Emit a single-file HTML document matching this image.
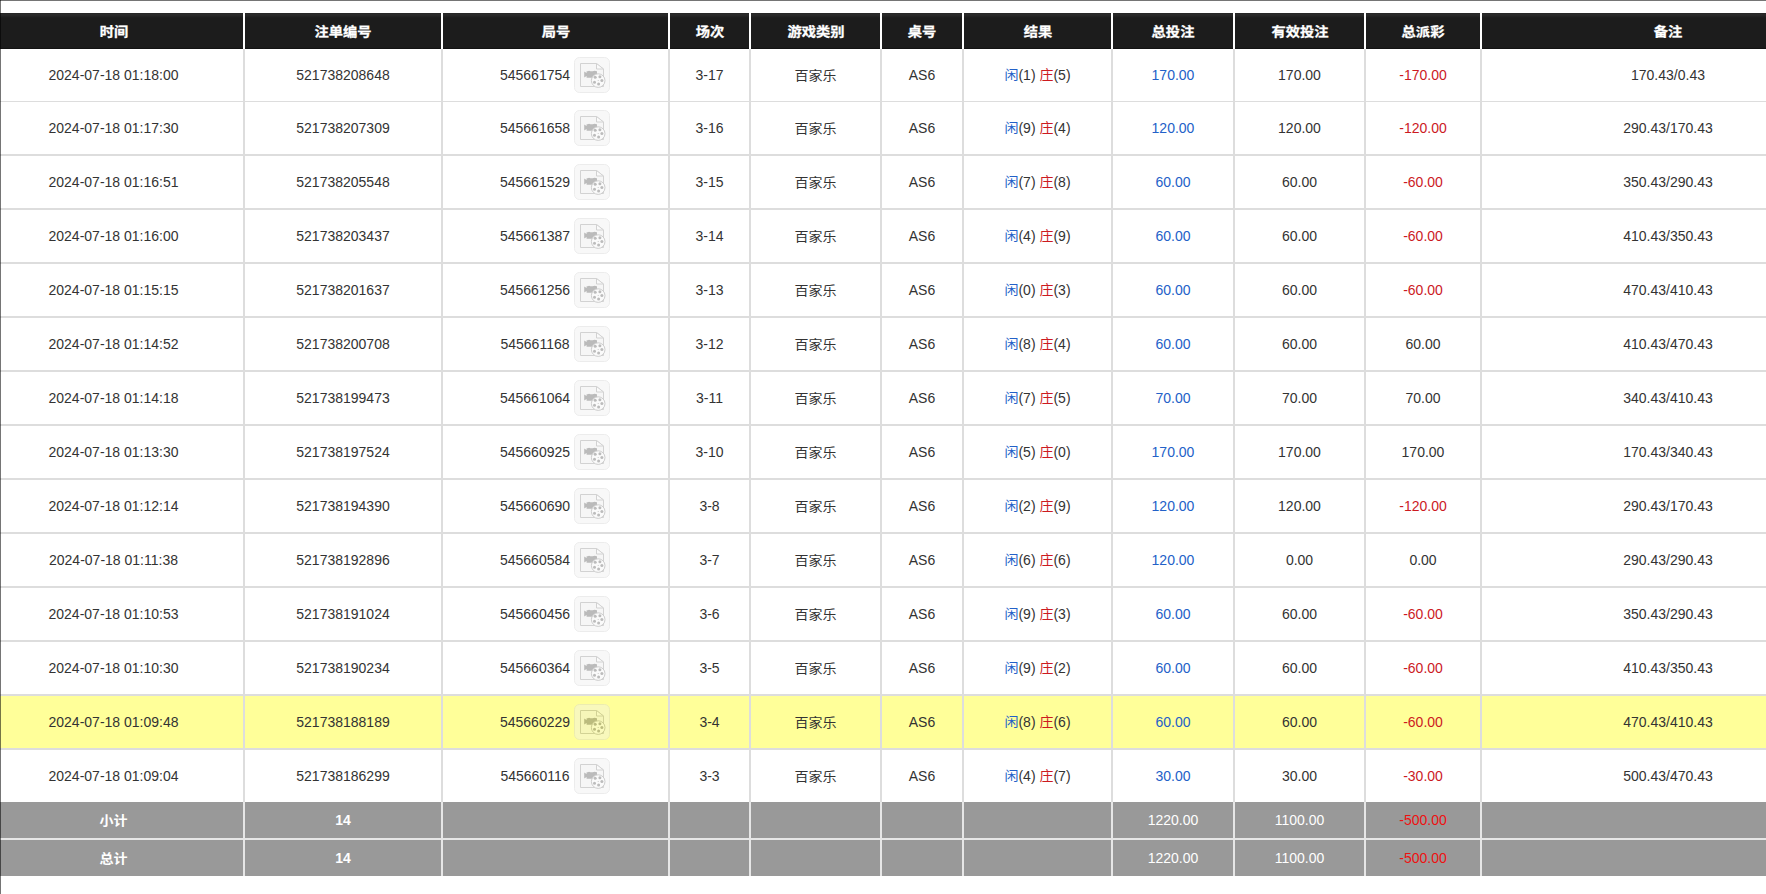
<!DOCTYPE html>
<html lang="zh-CN">
<head>
<meta charset="utf-8">
<title>注单记录</title>
<style>
html,body{margin:0;padding:0;background:#fff;}
body{width:1766px;height:894px;overflow:hidden;position:relative;font-family:"Liberation Sans","Noto Sans CJK SC",sans-serif;font-size:14px;color:#333;}
.wrap{position:absolute;left:-16px;top:13px;width:1870px;}
table{border-collapse:separate;border-spacing:0;table-layout:fixed;width:1870px;}
th,td{padding:0;text-align:center;vertical-align:middle;white-space:nowrap;overflow:hidden;box-sizing:border-box;}
thead th{height:36px;background:#1c1c1c linear-gradient(#232323 0,#2a2a2a 1px,#292929 2px,#1c1c1c 5px,#1c1c1c 34px,#1a1a1a 35px,#0c0c0c 36px);color:#fff;font-weight:bold;font-size:14px;border-right:2px solid #fff;font-family:"Liberation Sans","Noto Sans CJK SC",sans-serif;}
tbody td{height:54px;border-right:2px solid #ddd;border-bottom:2px solid #ddd;background:#fff;}
tbody tr.first td{height:53px;border-bottom-width:1px;}
tbody tr.last td{height:52px;border-bottom:0;}
tbody tr.hl td{background:#ffff99;}
tfoot td{height:38px;background:#999;color:#fff;border-right:2px solid #e6e6e6;border-bottom:2px solid #e6e6e6;}
tfoot tr.tot td{height:36px;border-bottom:0;}
th:last-child,td:last-child{border-right:0;}
.hc{display:inline-block;transform:scale(1.02,.9);-webkit-text-stroke:.3px #fff;}
.cj{display:inline-block;transform:translateY(-1px) scaleY(.92);}
tbody td.res{padding-bottom:2px;}
.b{color:#2361c8;}
.r{color:#cc1a1f;}
tfoot .r{color:#ee1111;}
tfoot .bd{font-weight:bold;}
.ic{display:inline-block;vertical-align:middle;margin-left:4px;opacity:.4;}
tbody td.c3{padding-right:1px;}
.no{display:inline-block;vertical-align:middle;}
.edge-t{position:absolute;left:0;top:0;width:1766px;height:1px;background:rgba(0,0,0,.54);z-index:5;}
.edge-l{position:absolute;left:0;top:0;width:1px;height:894px;background:rgba(0,0,0,.54);z-index:5;}
</style>
</head>
<body>
<div class="wrap">
<table>
<colgroup>
<col style="width:261px">
<col style="width:198px">
<col style="width:227px">
<col style="width:81px">
<col style="width:131px">
<col style="width:82px">
<col style="width:149px">
<col style="width:122px">
<col style="width:131px">
<col style="width:116px">
<col style="width:372px">
</colgroup>
<thead><tr>
<th><span class="hc">时间</span></th>
<th><span class="hc">注单编号</span></th>
<th><span class="hc">局号</span></th>
<th><span class="hc">场次</span></th>
<th><span class="hc">游戏类别</span></th>
<th><span class="hc">桌号</span></th>
<th><span class="hc">结果</span></th>
<th><span class="hc">总投注</span></th>
<th><span class="hc">有效投注</span></th>
<th><span class="hc">总派彩</span></th>
<th><span class="hc">备注</span></th>
</tr></thead>
<tbody>
<tr class="first"><td>2024-07-18 01:18:00</td><td>521738208648</td><td class="c3"><span class="no">545661754</span><svg class="ic" width="36" height="36" viewBox="0 0 36 36" aria-hidden="true"><rect x=".5" y=".5" width="35" height="35" rx="5" ry="5" fill="#f0f0f0" stroke="#d2d2d2"/><path d="M6.5 6.5H22.5L29.5 12V29.5H6.5Z" fill="#ebebeb" stroke="#919191"/><path d="M22.5 6.5V12H29.5Z" fill="#f5f5f5" stroke="#919191"/><path d="M10.2 14.6L12.6 16V14.2H13.6Q15 13.2 16.5 14.2H18.6Q20.7 13.2 22.8 14.2H23V20.7H12.6V19L10.2 20.4Z" fill="#585858"/><circle cx="24.2" cy="23.6" r="6.8" fill="#f5f5f5" stroke="#828282"/><circle cx="21.2" cy="20.3" r="1.5" fill="#5a5a5a"/><circle cx="25.9" cy="19.8" r="1.5" fill="#5a5a5a"/><circle cx="27.9" cy="23.4" r="1.5" fill="#5a5a5a"/><circle cx="24.6" cy="27.1" r="1.5" fill="#5a5a5a"/><circle cx="20.5" cy="25.3" r="1.5" fill="#5a5a5a"/><circle cx="24.2" cy="23.5" r=".6" fill="#757575"/></svg></td><td>3-17</td><td><span class="cj">百家乐</span></td><td>AS6</td><td class="res"><span class="b cj">闲</span>(1) <span class="r cj">庄</span>(5)</td><td class="b">170.00</td><td>170.00</td><td class="r">-170.00</td><td>170.43/0.43</td></tr>
<tr><td>2024-07-18 01:17:30</td><td>521738207309</td><td class="c3"><span class="no">545661658</span><svg class="ic" width="36" height="36" viewBox="0 0 36 36" aria-hidden="true"><rect x=".5" y=".5" width="35" height="35" rx="5" ry="5" fill="#f0f0f0" stroke="#d2d2d2"/><path d="M6.5 6.5H22.5L29.5 12V29.5H6.5Z" fill="#ebebeb" stroke="#919191"/><path d="M22.5 6.5V12H29.5Z" fill="#f5f5f5" stroke="#919191"/><path d="M10.2 14.6L12.6 16V14.2H13.6Q15 13.2 16.5 14.2H18.6Q20.7 13.2 22.8 14.2H23V20.7H12.6V19L10.2 20.4Z" fill="#585858"/><circle cx="24.2" cy="23.6" r="6.8" fill="#f5f5f5" stroke="#828282"/><circle cx="21.2" cy="20.3" r="1.5" fill="#5a5a5a"/><circle cx="25.9" cy="19.8" r="1.5" fill="#5a5a5a"/><circle cx="27.9" cy="23.4" r="1.5" fill="#5a5a5a"/><circle cx="24.6" cy="27.1" r="1.5" fill="#5a5a5a"/><circle cx="20.5" cy="25.3" r="1.5" fill="#5a5a5a"/><circle cx="24.2" cy="23.5" r=".6" fill="#757575"/></svg></td><td>3-16</td><td><span class="cj">百家乐</span></td><td>AS6</td><td class="res"><span class="b cj">闲</span>(9) <span class="r cj">庄</span>(4)</td><td class="b">120.00</td><td>120.00</td><td class="r">-120.00</td><td>290.43/170.43</td></tr>
<tr><td>2024-07-18 01:16:51</td><td>521738205548</td><td class="c3"><span class="no">545661529</span><svg class="ic" width="36" height="36" viewBox="0 0 36 36" aria-hidden="true"><rect x=".5" y=".5" width="35" height="35" rx="5" ry="5" fill="#f0f0f0" stroke="#d2d2d2"/><path d="M6.5 6.5H22.5L29.5 12V29.5H6.5Z" fill="#ebebeb" stroke="#919191"/><path d="M22.5 6.5V12H29.5Z" fill="#f5f5f5" stroke="#919191"/><path d="M10.2 14.6L12.6 16V14.2H13.6Q15 13.2 16.5 14.2H18.6Q20.7 13.2 22.8 14.2H23V20.7H12.6V19L10.2 20.4Z" fill="#585858"/><circle cx="24.2" cy="23.6" r="6.8" fill="#f5f5f5" stroke="#828282"/><circle cx="21.2" cy="20.3" r="1.5" fill="#5a5a5a"/><circle cx="25.9" cy="19.8" r="1.5" fill="#5a5a5a"/><circle cx="27.9" cy="23.4" r="1.5" fill="#5a5a5a"/><circle cx="24.6" cy="27.1" r="1.5" fill="#5a5a5a"/><circle cx="20.5" cy="25.3" r="1.5" fill="#5a5a5a"/><circle cx="24.2" cy="23.5" r=".6" fill="#757575"/></svg></td><td>3-15</td><td><span class="cj">百家乐</span></td><td>AS6</td><td class="res"><span class="b cj">闲</span>(7) <span class="r cj">庄</span>(8)</td><td class="b">60.00</td><td>60.00</td><td class="r">-60.00</td><td>350.43/290.43</td></tr>
<tr><td>2024-07-18 01:16:00</td><td>521738203437</td><td class="c3"><span class="no">545661387</span><svg class="ic" width="36" height="36" viewBox="0 0 36 36" aria-hidden="true"><rect x=".5" y=".5" width="35" height="35" rx="5" ry="5" fill="#f0f0f0" stroke="#d2d2d2"/><path d="M6.5 6.5H22.5L29.5 12V29.5H6.5Z" fill="#ebebeb" stroke="#919191"/><path d="M22.5 6.5V12H29.5Z" fill="#f5f5f5" stroke="#919191"/><path d="M10.2 14.6L12.6 16V14.2H13.6Q15 13.2 16.5 14.2H18.6Q20.7 13.2 22.8 14.2H23V20.7H12.6V19L10.2 20.4Z" fill="#585858"/><circle cx="24.2" cy="23.6" r="6.8" fill="#f5f5f5" stroke="#828282"/><circle cx="21.2" cy="20.3" r="1.5" fill="#5a5a5a"/><circle cx="25.9" cy="19.8" r="1.5" fill="#5a5a5a"/><circle cx="27.9" cy="23.4" r="1.5" fill="#5a5a5a"/><circle cx="24.6" cy="27.1" r="1.5" fill="#5a5a5a"/><circle cx="20.5" cy="25.3" r="1.5" fill="#5a5a5a"/><circle cx="24.2" cy="23.5" r=".6" fill="#757575"/></svg></td><td>3-14</td><td><span class="cj">百家乐</span></td><td>AS6</td><td class="res"><span class="b cj">闲</span>(4) <span class="r cj">庄</span>(9)</td><td class="b">60.00</td><td>60.00</td><td class="r">-60.00</td><td>410.43/350.43</td></tr>
<tr><td>2024-07-18 01:15:15</td><td>521738201637</td><td class="c3"><span class="no">545661256</span><svg class="ic" width="36" height="36" viewBox="0 0 36 36" aria-hidden="true"><rect x=".5" y=".5" width="35" height="35" rx="5" ry="5" fill="#f0f0f0" stroke="#d2d2d2"/><path d="M6.5 6.5H22.5L29.5 12V29.5H6.5Z" fill="#ebebeb" stroke="#919191"/><path d="M22.5 6.5V12H29.5Z" fill="#f5f5f5" stroke="#919191"/><path d="M10.2 14.6L12.6 16V14.2H13.6Q15 13.2 16.5 14.2H18.6Q20.7 13.2 22.8 14.2H23V20.7H12.6V19L10.2 20.4Z" fill="#585858"/><circle cx="24.2" cy="23.6" r="6.8" fill="#f5f5f5" stroke="#828282"/><circle cx="21.2" cy="20.3" r="1.5" fill="#5a5a5a"/><circle cx="25.9" cy="19.8" r="1.5" fill="#5a5a5a"/><circle cx="27.9" cy="23.4" r="1.5" fill="#5a5a5a"/><circle cx="24.6" cy="27.1" r="1.5" fill="#5a5a5a"/><circle cx="20.5" cy="25.3" r="1.5" fill="#5a5a5a"/><circle cx="24.2" cy="23.5" r=".6" fill="#757575"/></svg></td><td>3-13</td><td><span class="cj">百家乐</span></td><td>AS6</td><td class="res"><span class="b cj">闲</span>(0) <span class="r cj">庄</span>(3)</td><td class="b">60.00</td><td>60.00</td><td class="r">-60.00</td><td>470.43/410.43</td></tr>
<tr><td>2024-07-18 01:14:52</td><td>521738200708</td><td class="c3"><span class="no">545661168</span><svg class="ic" width="36" height="36" viewBox="0 0 36 36" aria-hidden="true"><rect x=".5" y=".5" width="35" height="35" rx="5" ry="5" fill="#f0f0f0" stroke="#d2d2d2"/><path d="M6.5 6.5H22.5L29.5 12V29.5H6.5Z" fill="#ebebeb" stroke="#919191"/><path d="M22.5 6.5V12H29.5Z" fill="#f5f5f5" stroke="#919191"/><path d="M10.2 14.6L12.6 16V14.2H13.6Q15 13.2 16.5 14.2H18.6Q20.7 13.2 22.8 14.2H23V20.7H12.6V19L10.2 20.4Z" fill="#585858"/><circle cx="24.2" cy="23.6" r="6.8" fill="#f5f5f5" stroke="#828282"/><circle cx="21.2" cy="20.3" r="1.5" fill="#5a5a5a"/><circle cx="25.9" cy="19.8" r="1.5" fill="#5a5a5a"/><circle cx="27.9" cy="23.4" r="1.5" fill="#5a5a5a"/><circle cx="24.6" cy="27.1" r="1.5" fill="#5a5a5a"/><circle cx="20.5" cy="25.3" r="1.5" fill="#5a5a5a"/><circle cx="24.2" cy="23.5" r=".6" fill="#757575"/></svg></td><td>3-12</td><td><span class="cj">百家乐</span></td><td>AS6</td><td class="res"><span class="b cj">闲</span>(8) <span class="r cj">庄</span>(4)</td><td class="b">60.00</td><td>60.00</td><td>60.00</td><td>410.43/470.43</td></tr>
<tr><td>2024-07-18 01:14:18</td><td>521738199473</td><td class="c3"><span class="no">545661064</span><svg class="ic" width="36" height="36" viewBox="0 0 36 36" aria-hidden="true"><rect x=".5" y=".5" width="35" height="35" rx="5" ry="5" fill="#f0f0f0" stroke="#d2d2d2"/><path d="M6.5 6.5H22.5L29.5 12V29.5H6.5Z" fill="#ebebeb" stroke="#919191"/><path d="M22.5 6.5V12H29.5Z" fill="#f5f5f5" stroke="#919191"/><path d="M10.2 14.6L12.6 16V14.2H13.6Q15 13.2 16.5 14.2H18.6Q20.7 13.2 22.8 14.2H23V20.7H12.6V19L10.2 20.4Z" fill="#585858"/><circle cx="24.2" cy="23.6" r="6.8" fill="#f5f5f5" stroke="#828282"/><circle cx="21.2" cy="20.3" r="1.5" fill="#5a5a5a"/><circle cx="25.9" cy="19.8" r="1.5" fill="#5a5a5a"/><circle cx="27.9" cy="23.4" r="1.5" fill="#5a5a5a"/><circle cx="24.6" cy="27.1" r="1.5" fill="#5a5a5a"/><circle cx="20.5" cy="25.3" r="1.5" fill="#5a5a5a"/><circle cx="24.2" cy="23.5" r=".6" fill="#757575"/></svg></td><td>3-11</td><td><span class="cj">百家乐</span></td><td>AS6</td><td class="res"><span class="b cj">闲</span>(7) <span class="r cj">庄</span>(5)</td><td class="b">70.00</td><td>70.00</td><td>70.00</td><td>340.43/410.43</td></tr>
<tr><td>2024-07-18 01:13:30</td><td>521738197524</td><td class="c3"><span class="no">545660925</span><svg class="ic" width="36" height="36" viewBox="0 0 36 36" aria-hidden="true"><rect x=".5" y=".5" width="35" height="35" rx="5" ry="5" fill="#f0f0f0" stroke="#d2d2d2"/><path d="M6.5 6.5H22.5L29.5 12V29.5H6.5Z" fill="#ebebeb" stroke="#919191"/><path d="M22.5 6.5V12H29.5Z" fill="#f5f5f5" stroke="#919191"/><path d="M10.2 14.6L12.6 16V14.2H13.6Q15 13.2 16.5 14.2H18.6Q20.7 13.2 22.8 14.2H23V20.7H12.6V19L10.2 20.4Z" fill="#585858"/><circle cx="24.2" cy="23.6" r="6.8" fill="#f5f5f5" stroke="#828282"/><circle cx="21.2" cy="20.3" r="1.5" fill="#5a5a5a"/><circle cx="25.9" cy="19.8" r="1.5" fill="#5a5a5a"/><circle cx="27.9" cy="23.4" r="1.5" fill="#5a5a5a"/><circle cx="24.6" cy="27.1" r="1.5" fill="#5a5a5a"/><circle cx="20.5" cy="25.3" r="1.5" fill="#5a5a5a"/><circle cx="24.2" cy="23.5" r=".6" fill="#757575"/></svg></td><td>3-10</td><td><span class="cj">百家乐</span></td><td>AS6</td><td class="res"><span class="b cj">闲</span>(5) <span class="r cj">庄</span>(0)</td><td class="b">170.00</td><td>170.00</td><td>170.00</td><td>170.43/340.43</td></tr>
<tr><td>2024-07-18 01:12:14</td><td>521738194390</td><td class="c3"><span class="no">545660690</span><svg class="ic" width="36" height="36" viewBox="0 0 36 36" aria-hidden="true"><rect x=".5" y=".5" width="35" height="35" rx="5" ry="5" fill="#f0f0f0" stroke="#d2d2d2"/><path d="M6.5 6.5H22.5L29.5 12V29.5H6.5Z" fill="#ebebeb" stroke="#919191"/><path d="M22.5 6.5V12H29.5Z" fill="#f5f5f5" stroke="#919191"/><path d="M10.2 14.6L12.6 16V14.2H13.6Q15 13.2 16.5 14.2H18.6Q20.7 13.2 22.8 14.2H23V20.7H12.6V19L10.2 20.4Z" fill="#585858"/><circle cx="24.2" cy="23.6" r="6.8" fill="#f5f5f5" stroke="#828282"/><circle cx="21.2" cy="20.3" r="1.5" fill="#5a5a5a"/><circle cx="25.9" cy="19.8" r="1.5" fill="#5a5a5a"/><circle cx="27.9" cy="23.4" r="1.5" fill="#5a5a5a"/><circle cx="24.6" cy="27.1" r="1.5" fill="#5a5a5a"/><circle cx="20.5" cy="25.3" r="1.5" fill="#5a5a5a"/><circle cx="24.2" cy="23.5" r=".6" fill="#757575"/></svg></td><td>3-8</td><td><span class="cj">百家乐</span></td><td>AS6</td><td class="res"><span class="b cj">闲</span>(2) <span class="r cj">庄</span>(9)</td><td class="b">120.00</td><td>120.00</td><td class="r">-120.00</td><td>290.43/170.43</td></tr>
<tr><td>2024-07-18 01:11:38</td><td>521738192896</td><td class="c3"><span class="no">545660584</span><svg class="ic" width="36" height="36" viewBox="0 0 36 36" aria-hidden="true"><rect x=".5" y=".5" width="35" height="35" rx="5" ry="5" fill="#f0f0f0" stroke="#d2d2d2"/><path d="M6.5 6.5H22.5L29.5 12V29.5H6.5Z" fill="#ebebeb" stroke="#919191"/><path d="M22.5 6.5V12H29.5Z" fill="#f5f5f5" stroke="#919191"/><path d="M10.2 14.6L12.6 16V14.2H13.6Q15 13.2 16.5 14.2H18.6Q20.7 13.2 22.8 14.2H23V20.7H12.6V19L10.2 20.4Z" fill="#585858"/><circle cx="24.2" cy="23.6" r="6.8" fill="#f5f5f5" stroke="#828282"/><circle cx="21.2" cy="20.3" r="1.5" fill="#5a5a5a"/><circle cx="25.9" cy="19.8" r="1.5" fill="#5a5a5a"/><circle cx="27.9" cy="23.4" r="1.5" fill="#5a5a5a"/><circle cx="24.6" cy="27.1" r="1.5" fill="#5a5a5a"/><circle cx="20.5" cy="25.3" r="1.5" fill="#5a5a5a"/><circle cx="24.2" cy="23.5" r=".6" fill="#757575"/></svg></td><td>3-7</td><td><span class="cj">百家乐</span></td><td>AS6</td><td class="res"><span class="b cj">闲</span>(6) <span class="r cj">庄</span>(6)</td><td class="b">120.00</td><td>0.00</td><td>0.00</td><td>290.43/290.43</td></tr>
<tr><td>2024-07-18 01:10:53</td><td>521738191024</td><td class="c3"><span class="no">545660456</span><svg class="ic" width="36" height="36" viewBox="0 0 36 36" aria-hidden="true"><rect x=".5" y=".5" width="35" height="35" rx="5" ry="5" fill="#f0f0f0" stroke="#d2d2d2"/><path d="M6.5 6.5H22.5L29.5 12V29.5H6.5Z" fill="#ebebeb" stroke="#919191"/><path d="M22.5 6.5V12H29.5Z" fill="#f5f5f5" stroke="#919191"/><path d="M10.2 14.6L12.6 16V14.2H13.6Q15 13.2 16.5 14.2H18.6Q20.7 13.2 22.8 14.2H23V20.7H12.6V19L10.2 20.4Z" fill="#585858"/><circle cx="24.2" cy="23.6" r="6.8" fill="#f5f5f5" stroke="#828282"/><circle cx="21.2" cy="20.3" r="1.5" fill="#5a5a5a"/><circle cx="25.9" cy="19.8" r="1.5" fill="#5a5a5a"/><circle cx="27.9" cy="23.4" r="1.5" fill="#5a5a5a"/><circle cx="24.6" cy="27.1" r="1.5" fill="#5a5a5a"/><circle cx="20.5" cy="25.3" r="1.5" fill="#5a5a5a"/><circle cx="24.2" cy="23.5" r=".6" fill="#757575"/></svg></td><td>3-6</td><td><span class="cj">百家乐</span></td><td>AS6</td><td class="res"><span class="b cj">闲</span>(9) <span class="r cj">庄</span>(3)</td><td class="b">60.00</td><td>60.00</td><td class="r">-60.00</td><td>350.43/290.43</td></tr>
<tr><td>2024-07-18 01:10:30</td><td>521738190234</td><td class="c3"><span class="no">545660364</span><svg class="ic" width="36" height="36" viewBox="0 0 36 36" aria-hidden="true"><rect x=".5" y=".5" width="35" height="35" rx="5" ry="5" fill="#f0f0f0" stroke="#d2d2d2"/><path d="M6.5 6.5H22.5L29.5 12V29.5H6.5Z" fill="#ebebeb" stroke="#919191"/><path d="M22.5 6.5V12H29.5Z" fill="#f5f5f5" stroke="#919191"/><path d="M10.2 14.6L12.6 16V14.2H13.6Q15 13.2 16.5 14.2H18.6Q20.7 13.2 22.8 14.2H23V20.7H12.6V19L10.2 20.4Z" fill="#585858"/><circle cx="24.2" cy="23.6" r="6.8" fill="#f5f5f5" stroke="#828282"/><circle cx="21.2" cy="20.3" r="1.5" fill="#5a5a5a"/><circle cx="25.9" cy="19.8" r="1.5" fill="#5a5a5a"/><circle cx="27.9" cy="23.4" r="1.5" fill="#5a5a5a"/><circle cx="24.6" cy="27.1" r="1.5" fill="#5a5a5a"/><circle cx="20.5" cy="25.3" r="1.5" fill="#5a5a5a"/><circle cx="24.2" cy="23.5" r=".6" fill="#757575"/></svg></td><td>3-5</td><td><span class="cj">百家乐</span></td><td>AS6</td><td class="res"><span class="b cj">闲</span>(9) <span class="r cj">庄</span>(2)</td><td class="b">60.00</td><td>60.00</td><td class="r">-60.00</td><td>410.43/350.43</td></tr>
<tr class="hl"><td>2024-07-18 01:09:48</td><td>521738188189</td><td class="c3"><span class="no">545660229</span><svg class="ic" width="36" height="36" viewBox="0 0 36 36" aria-hidden="true"><rect x=".5" y=".5" width="35" height="35" rx="5" ry="5" fill="#f0f0f0" stroke="#d2d2d2"/><path d="M6.5 6.5H22.5L29.5 12V29.5H6.5Z" fill="#ebebeb" stroke="#919191"/><path d="M22.5 6.5V12H29.5Z" fill="#f5f5f5" stroke="#919191"/><path d="M10.2 14.6L12.6 16V14.2H13.6Q15 13.2 16.5 14.2H18.6Q20.7 13.2 22.8 14.2H23V20.7H12.6V19L10.2 20.4Z" fill="#585858"/><circle cx="24.2" cy="23.6" r="6.8" fill="#f5f5f5" stroke="#828282"/><circle cx="21.2" cy="20.3" r="1.5" fill="#5a5a5a"/><circle cx="25.9" cy="19.8" r="1.5" fill="#5a5a5a"/><circle cx="27.9" cy="23.4" r="1.5" fill="#5a5a5a"/><circle cx="24.6" cy="27.1" r="1.5" fill="#5a5a5a"/><circle cx="20.5" cy="25.3" r="1.5" fill="#5a5a5a"/><circle cx="24.2" cy="23.5" r=".6" fill="#757575"/></svg></td><td>3-4</td><td><span class="cj">百家乐</span></td><td>AS6</td><td class="res"><span class="b cj">闲</span>(8) <span class="r cj">庄</span>(6)</td><td class="b">60.00</td><td>60.00</td><td class="r">-60.00</td><td>470.43/410.43</td></tr>
<tr class="last"><td>2024-07-18 01:09:04</td><td>521738186299</td><td class="c3"><span class="no">545660116</span><svg class="ic" width="36" height="36" viewBox="0 0 36 36" aria-hidden="true"><rect x=".5" y=".5" width="35" height="35" rx="5" ry="5" fill="#f0f0f0" stroke="#d2d2d2"/><path d="M6.5 6.5H22.5L29.5 12V29.5H6.5Z" fill="#ebebeb" stroke="#919191"/><path d="M22.5 6.5V12H29.5Z" fill="#f5f5f5" stroke="#919191"/><path d="M10.2 14.6L12.6 16V14.2H13.6Q15 13.2 16.5 14.2H18.6Q20.7 13.2 22.8 14.2H23V20.7H12.6V19L10.2 20.4Z" fill="#585858"/><circle cx="24.2" cy="23.6" r="6.8" fill="#f5f5f5" stroke="#828282"/><circle cx="21.2" cy="20.3" r="1.5" fill="#5a5a5a"/><circle cx="25.9" cy="19.8" r="1.5" fill="#5a5a5a"/><circle cx="27.9" cy="23.4" r="1.5" fill="#5a5a5a"/><circle cx="24.6" cy="27.1" r="1.5" fill="#5a5a5a"/><circle cx="20.5" cy="25.3" r="1.5" fill="#5a5a5a"/><circle cx="24.2" cy="23.5" r=".6" fill="#757575"/></svg></td><td>3-3</td><td><span class="cj">百家乐</span></td><td>AS6</td><td class="res"><span class="b cj">闲</span>(4) <span class="r cj">庄</span>(7)</td><td class="b">30.00</td><td>30.00</td><td class="r">-30.00</td><td>500.43/470.43</td></tr>
</tbody>
<tfoot>
<tr><td class="bd"><span class="cj">小计</span></td><td class="bd">14</td><td></td><td></td><td></td><td></td><td></td><td>1220.00</td><td>1100.00</td><td class="r">-500.00</td><td></td></tr>
<tr class="tot"><td class="bd"><span class="cj">总计</span></td><td class="bd">14</td><td></td><td></td><td></td><td></td><td></td><td>1220.00</td><td>1100.00</td><td class="r">-500.00</td><td></td></tr>
</tfoot>
</table>
</div>
<div class="edge-t"></div><div class="edge-l"></div>
</body>
</html>
